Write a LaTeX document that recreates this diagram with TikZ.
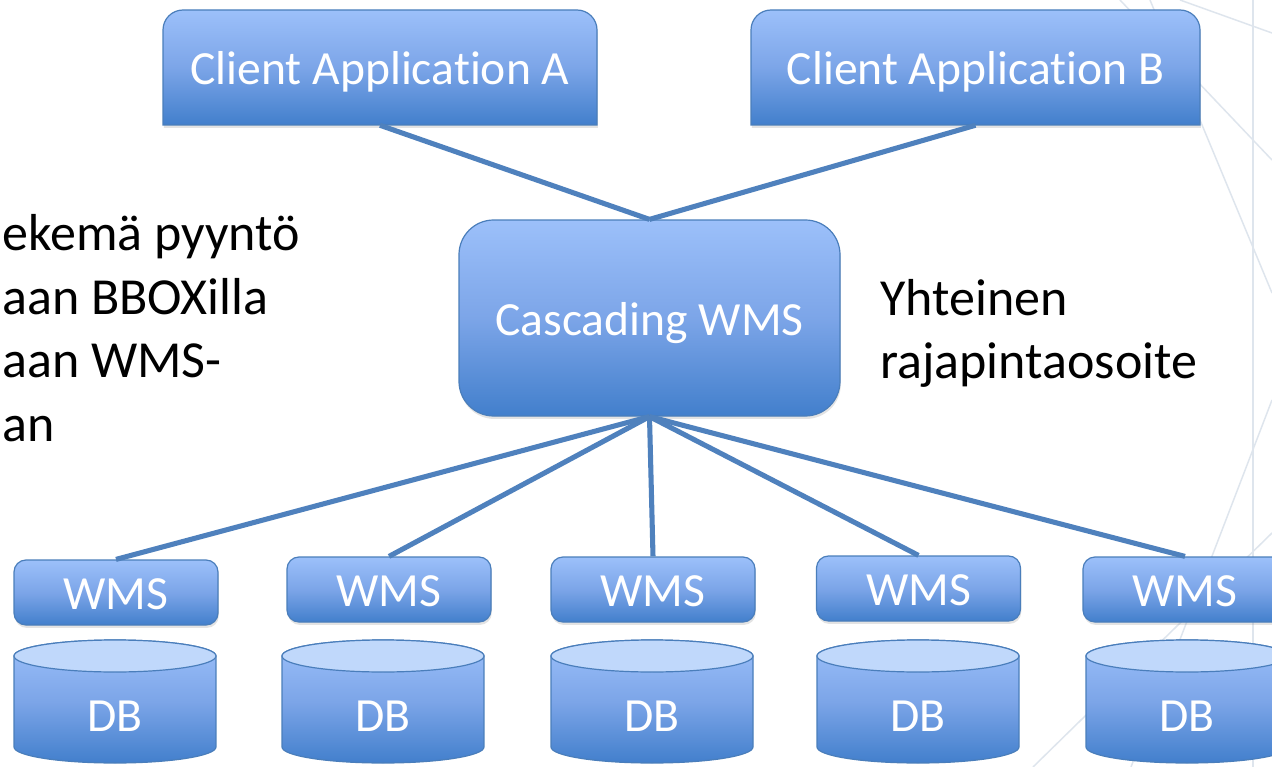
\documentclass[tikz,border=0pt]{standalone}
\usepackage{fontspec}
\setmainfont{Carlito}[Ligatures={NoCommon}]
\usetikzlibrary{shadows}
\definecolor{bgline}{RGB}{222,229,237}
\definecolor{boxtop}{RGB}{156,192,250}
\definecolor{boxmid}{RGB}{124,165,232}
\definecolor{boxbot}{RGB}{66,127,204}
\definecolor{boxedge}{RGB}{74,126,187}
\definecolor{conncol}{RGB}{79,129,189}
\definecolor{captop}{RGB}{192,216,251}
\tikzset{
  bgstroke/.style={draw=bgline, line width=1.1pt},
  boxfill/.style={top color=boxtop, bottom color=boxbot, middle color=boxmid, draw=boxedge, line width=0.9pt,
    drop shadow={shadow xshift=0.6pt, shadow yshift=-2.2pt, opacity=0.22}},
  cylfill/.style={top color=boxtop, bottom color=boxbot, middle color=boxmid, draw=boxedge, line width=0.9pt},
  capfill/.style={fill=captop, draw=boxedge, line width=0.9pt},
  boxlabel/.style={text=white, font=\fontsize{35.7}{42}\selectfont, inner sep=0pt, text height=26pt, text depth=0pt},
  sidetext/.style={text=black, font=\fontsize{39}{47}\selectfont, inner sep=0pt, anchor=base west},
  conn/.style={draw=conncol, line width=3.8pt},
  wmsbox/.style={boxfill, rounded corners=9pt, minimum width=153pt, minimum height=48.75pt, boxlabel},
  cascbox/.style={boxfill, rounded corners=26pt, minimum width=285.75pt, minimum height=147pt, boxlabel},
}
\begin{document}
\begin{tikzpicture}[x=0.75pt,y=0.75pt]
\useasboundingbox (0,0) rectangle (1272,-767);
\fill[white] (0,0) rectangle (1272,-767);
% faint background decoration
\draw[bgstroke] (1253,0) -- (1253,-767);
\draw[bgstroke] (1120,0) -- (1272,-160);
\draw[bgstroke] (1150,0) -- (1272,-293);
\draw[bgstroke] (1180,0) -- (1272,-33);
\draw[bgstroke] (1272,-400) -- (1131,-767);
\draw[bgstroke] (1033,-767) -- (1272,-533);
% client boxes (rounded top corners)
\path[boxfill] (163,-125) [rounded corners=15pt] -- (163,-10) -- (597,-10) [sharp corners] -- (597,-125) -- cycle;
\path[boxfill] (751,-125) [rounded corners=15pt] -- (751,-10) -- (1200,-10) [sharp corners] -- (1200,-125) -- cycle;
\node[boxlabel, minimum width=325.5pt, minimum height=86.25pt] (ca) at (380,-67.5) {Client Application A};
\node[boxlabel, minimum width=336.75pt, minimum height=86.25pt] (cb) at (975.5,-67.5) {Client Application B};
% cascading WMS
\node[cascbox] (casc) at (649.5,-318) {Cascading WMS};
% WMS boxes
\node[wmsbox] (w1) at (116,-592.5) {WMS};
\node[wmsbox] (w2) at (389,-589.5) {WMS};
\node[wmsbox] (w3) at (653,-589.5) {WMS};
\node[wmsbox] (w4) at (918.5,-588.5) {WMS};
\node[wmsbox] (w5) at (1185,-589.5) {WMS};
% databases
\foreach \L/\R/\n in {14/216/1, 282/484/2, 551/753/3, 817/1019/4, 1086/1288/5}{
  \path[cylfill] (\L,-656) -- (\L,-747) arc[start angle=180, end angle=360, x radius=101, y radius=16]
     -- (\R,-656) arc[start angle=0, end angle=180, x radius=101, y radius=16] -- cycle;
  \path[capfill] ({(\L+\R)/2},-656) ellipse[x radius=101, y radius=16];
  \node[boxlabel] (db\n) at ({(\L+\R)/2},-714) {DB};
}
% connectors
\draw[conn] (ca.south) -- (casc.north);
\draw[conn] (cb.south) -- (casc.north);
\foreach \w in {w1,w2,w3,w4,w5}{
  \draw[conn] (casc.south) -- (\w.north);
}
% side texts
\node[sidetext] (l1) at (2,-250) {ekemä pyyntö};
\node[sidetext] (l2) at (2,-314) {aan BBOXilla};
\node[sidetext] (l3) at (2,-377) {aan WMS-};
\node[sidetext] (l4) at (2,-441) {an};
\node[sidetext] (r1) at (880,-315) {Yhteinen};
\node[sidetext] (r2) at (880,-378) {rajapintaosoite};
\end{tikzpicture}
\end{document}
